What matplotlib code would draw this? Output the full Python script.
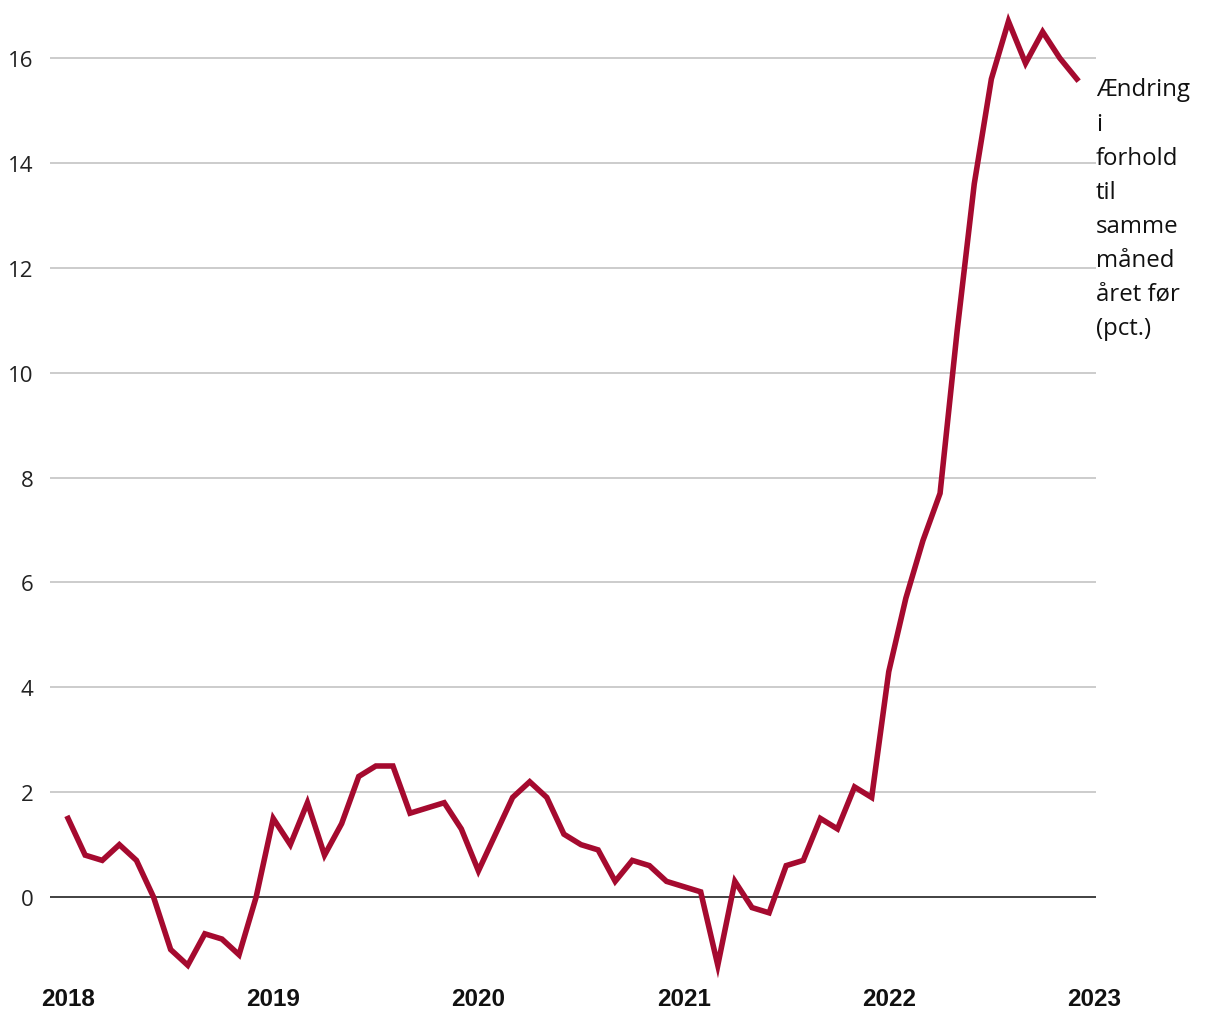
import numpy as np
import matplotlib
matplotlib.use("Agg")
import matplotlib.pyplot as plt
import matplotlib.transforms as mtransforms

# monthly values, Jan 2018 - Dec 2022
vals_2018 = [1.5, 0.8, 0.7, 1.0, 0.7, 0.0, -1.0, -1.3, -0.7, -0.8, -1.1, 0.0]
vals_2019 = [1.5, 1.0, 1.8, 0.8, 1.4, 2.3, 2.5, 2.5, 1.6, 1.7, 1.8, 1.3]
vals_2020 = [0.5, 1.2, 1.9, 2.2, 1.9, 1.2, 1.0, 0.9, 0.3, 0.7, 0.6, 0.3]
vals_2021 = [0.2, 0.1, -1.3, 0.3, -0.2, -0.3, 0.6, 0.7, 1.5, 1.3, 2.1, 1.9]
vals_2022 = [4.3, 5.7, 6.8, 7.7, 10.8, 13.6, 15.6, 16.7, 15.9, 16.5, 16.0, 15.6]

years = [2018, 2019, 2020, 2021, 2022]
year_ticks = [2018, 2019, 2020, 2021, 2022, 2023]
y_ticks = [0, 2, 4, 6, 8, 10, 12, 14, 16]
label_txt = "Ændring\ni\nforhold\ntil\nsamme\nmåned\nåret før\n(pct.)"

values = np.array(vals_2018 + vals_2019 + vals_2020 + vals_2021 + vals_2022)
t = np.array([y + m / 12.0 for y in years for m in range(12)])

line_color = "#A50A2F"

fig = plt.figure(figsize=(12.2, 10.2), dpi=100)
ax = fig.add_axes([50 / 1220, 1 - 982 / 1020, (1096 - 50) / 1220, (982 - 6.6) / 1020])

# gridlines
for v in y_ticks:
    if v == 0:
        ax.axhline(v, color="#333333", lw=1.3, zorder=1)
    else:
        ax.axhline(v, color="#C4C4C4", lw=1.2, zorder=0)

ax.plot(t, values, color=line_color, lw=4.0, zorder=3, solid_joinstyle="miter")

ax.set_xlim(2017.912, 2023.01)
ax.set_ylim(-1.6, 17.0)

ax.set_yticks(y_ticks)
ax.set_yticklabels([str(v) for v in y_ticks], fontfamily="Open Sans", fontsize=16, color="#222222")
ax.set_xticks(year_ticks)
ax.set_xticklabels([str(y) for y in year_ticks], fontfamily="Liberation Sans", fontweight="bold",
                   fontsize=17.5, color="#111111")
ax.tick_params(axis="y", length=0, pad=12)
ax.tick_params(axis="x", length=0, pad=4)

for s in ax.spines.values():
    s.set_visible(False)

trans = mtransforms.blended_transform_factory(ax.transAxes, ax.transData)
ax.text(1.0, 15.63, label_txt, transform=trans, ha="left", va="top",
        fontfamily="Open Sans", fontsize=17.3, color="#111111", linespacing=1.56)

fig.savefig("out.png", dpi=100)
